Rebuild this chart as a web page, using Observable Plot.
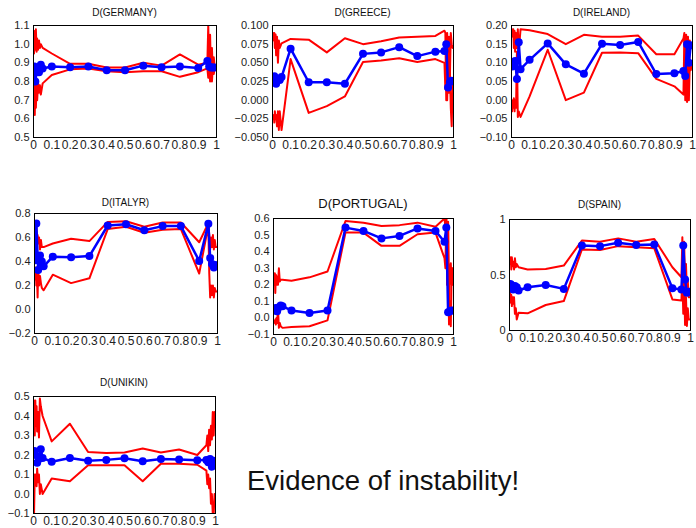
<!DOCTYPE html>
<html>
<head>
<meta charset="utf-8">
<script src="https://cdn.jsdelivr.net/npm/d3@7"></script>
<script src="https://cdn.jsdelivr.net/npm/@observablehq/plot@0.6"></script>
<style>
  body { margin: 0; background: #fff; }
  #root { position: relative; width: 696px; height: 528px; background: #fff; overflow: hidden; }
  .panel { position: absolute; }
  .panel svg { overflow: visible; }
  .ttl { position: absolute; font-family: "Liberation Sans", Arial, sans-serif; font-size: 10px; color: #111; text-align: center; }
  #note { position: absolute; left: 247px; top: 465px; font-family: "Liberation Sans", Arial, sans-serif; font-size: 27.5px; color: #111; white-space: nowrap; }
</style>
</head>
<body>
<div id="root"></div>
<script>
// x grids (quantile levels)
const bx = [0.005,0.01,0.02,0.03,0.04,0.05,0.1,0.2,0.3,0.4,0.5,0.6,0.7,0.8,0.9,0.95,0.96,0.97,0.98,0.99];
const rx = [0.003,0.007,0.01,0.013,0.017,0.02,0.025,0.03,0.035,0.04,0.05,0.1,0.2,0.3,0.4,0.5,0.6,0.7,0.8,0.9,0.95,0.955,0.96,0.965,0.97,0.975,0.98,0.985,0.99,0.995];
const xTicks = [0,0.1,0.2,0.3,0.4,0.5,0.6,0.7,0.8,0.9,1];

const germanyBlue = [0.88,0.80,0.87,0.85,0.89,0.87,0.88,0.876,0.88,0.86,0.86,0.885,0.876,0.88,0.872,0.91,0.88,0.875,0.875,0.875];
const germanyUpper = [0.95,1.07,0.97,1.08,0.96,1.03,0.97,1.02,0.98,1.0,0.98,0.95,0.895,0.895,0.875,0.875,0.9,0.885,0.945,0.89,0.9,1.1,0.85,1.05,0.82,0.98,0.85,0.93,0.88,0.88];
const germanyLower = [0.84,0.62,0.78,0.66,0.8,0.7,0.79,0.74,0.78,0.73,0.79,0.835,0.865,0.87,0.855,0.85,0.855,0.855,0.825,0.85,0.87,0.82,0.9,0.8,0.92,0.8,0.88,0.84,0.87,0.87];

const greeceBlue = [0.027,0.032,0.022,0.028,0.027,0.031,0.069,0.024,0.024,0.022,0.062,0.064,0.071,0.059,0.065,0.066,0.075,0.017,0.024,0.026];
const greeceUpper = [0.09,0.08,0.09,0.07,0.088,0.06,0.085,0.05,0.08,0.07,0.076,0.082,0.081,0.064,0.083,0.075,0.079,0.084,0.085,0.086,0.093,0.09,0.0,0.09,0.02,0.085,0.03,0.09,0.075,0.07];
const greeceLower = [-0.025,-0.02,-0.03,-0.015,-0.025,-0.02,-0.035,-0.015,-0.04,-0.015,-0.04,0.055,-0.017,-0.008,0.005,0.051,0.053,0.056,0.051,0.055,0.05,0.015,0.07,0.0,0.06,0.01,0.04,-0.01,-0.035,0.02];

const irelandBlue = [0.09,0.098,0.105,0.057,0.155,0.083,0.108,0.152,0.096,0.071,0.151,0.148,0.156,0.07,0.072,0.078,0.065,0.15,0.1,0.147];
const irelandUpper = [0.19,0.17,0.19,0.14,0.185,0.13,0.18,0.14,0.19,0.13,0.19,0.187,0.177,0.15,0.175,0.17,0.17,0.173,0.123,0.123,0.165,0.18,0.06,0.175,0.0,0.17,0.05,0.16,0.14,0.15];
const irelandLower = [-0.03,0.0,-0.02,0.005,-0.03,0.0,-0.02,0.13,-0.045,-0.03,-0.045,0.01,0.135,0.0,0.02,0.127,0.128,0.126,0.057,0.037,0.015,0.17,0.0,0.16,-0.005,0.13,0.0,0.1,0.08,0.09];

const italyBlue = [0.41,0.716,0.33,0.45,0.40,0.36,0.44,0.435,0.445,0.70,0.71,0.66,0.695,0.695,0.405,0.715,0.43,0.38,0.35,0.37];
const italyUpper = [0.73,0.5,0.7,0.55,0.62,0.55,0.6,0.5,0.58,0.52,0.52,0.55,0.59,0.57,0.73,0.735,0.69,0.725,0.725,0.56,0.72,0.62,0.5,0.6,0.52,0.62,0.5,0.58,0.52,0.52];
const italyLower = [0.25,0.35,0.2,0.3,0.1,0.35,0.2,0.28,0.22,0.18,0.16,0.29,0.22,0.26,0.67,0.69,0.64,0.665,0.67,0.3,0.7,0.3,0.1,0.2,0.12,0.2,0.1,0.18,0.15,0.15];

const portugalBlue = [0.045,0.06,0.04,0.065,0.075,0.07,0.045,0.03,0.045,0.545,0.525,0.48,0.495,0.54,0.525,0.46,0.545,0.035,0.04,0.045];
const portugalUpper = [0.2,0.27,0.15,0.26,0.2,0.25,0.2,0.3,0.22,0.23,0.23,0.225,0.245,0.28,0.585,0.575,0.555,0.56,0.575,0.55,0.6,0.55,0.6,0.2,0.58,0.0,0.3,0.33,0.2,0.3];
const portugalLower = [-0.02,-0.03,-0.01,-0.04,0.0,-0.03,0.05,-0.06,-0.03,-0.05,-0.06,-0.055,-0.05,-0.015,0.515,0.515,0.435,0.435,0.505,0.515,0.36,0.3,0.6,0.2,0.55,-0.04,0.1,-0.05,0.3,0.2];

const spainBlue = [0.42,0.41,0.37,0.4,0.39,0.36,0.39,0.41,0.375,0.765,0.76,0.79,0.77,0.775,0.38,0.37,0.765,0.46,0.34,0.35];
const spainUpper = [0.6,0.66,0.55,0.66,0.58,0.62,0.55,0.65,0.57,0.6,0.57,0.55,0.555,0.585,0.81,0.8,0.83,0.8,0.825,0.57,0.48,0.84,0.45,0.8,0.4,0.6,0.35,0.45,0.3,0.3];
const spainLower = [0.35,0.25,0.32,0.22,0.3,0.24,0.3,0.15,0.2,0.1,0.16,0.155,0.23,0.265,0.73,0.725,0.76,0.75,0.74,0.28,0.27,0.5,0.15,0.45,0.05,0.3,0.04,0.2,0.1,0.1];

const unikinBlue = [0.22,0.2,0.16,0.18,0.23,0.185,0.165,0.185,0.17,0.175,0.183,0.168,0.18,0.177,0.173,0.175,0.163,0.18,0.14,0.17];
const unikinUpper = [0.48,0.3,0.48,0.35,0.45,0.32,0.42,0.29,0.49,0.45,0.4,0.27,0.36,0.215,0.21,0.213,0.233,0.213,0.228,0.2,0.25,0.3,0.22,0.33,0.25,0.35,0.28,0.42,0.3,0.42];
const unikinLower = [-0.1,0.1,0.05,0.1,0.04,0.13,0.06,0.1,0.0,0.05,0.0,0.08,0.065,0.148,0.148,0.148,0.065,0.155,0.155,0.15,0.12,0.05,0.1,0.03,0.08,-0.05,0.0,-0.1,-0.1,0.0];

const titles = ["D(GERMANY)","D(GREECE)","D(IRELAND)","D(ITALYR)","D(PORTUGAL)","D(SPAIN)","D(UNIKIN)"];
const yDomains = [[0.5,1.1],[-0.05,0.1],[-0.1,0.2],[-0.2,0.8],[-0.1,0.6],[0,1],[-0.1,0.5]];
const yTicks = [
  [0.5,0.6,0.7,0.8,0.9,1.0,1.1],
  [-0.05,-0.025,0,0.025,0.05,0.075,0.1],
  [-0.1,-0.05,0,0.05,0.1,0.15,0.2],
  [-0.2,0,0.2,0.4,0.6,0.8],
  [-0.1,0,0.1,0.2,0.3,0.4,0.5,0.6],
  [0,0.5,1],
  [-0.1,0,0.1,0.2,0.3,0.4,0.5]
];
const yFormats = [".1f",".3f",".2f",".1f",".1f","~g",".1f"];
const blues = [germanyBlue,greeceBlue,irelandBlue,italyBlue,portugalBlue,spainBlue,unikinBlue];
const uppers = [germanyUpper,greeceUpper,irelandUpper,italyUpper,portugalUpper,spainUpper,unikinUpper];
const lowers = [germanyLower,greeceLower,irelandLower,italyLower,portugalLower,spainLower,unikinLower];

// layout: frame boxes [left, top, right, bottom] and title positions
const frames = [[33,25,216,137],[272,25,453,137],[511,25,692,137],[34,213,217,333],[273,218,453,334],[509,219,690,330],[33,396,215,513]];
const titleY = [7,7,7,197,196,199,377];
const titleSize = [10,10,10,10,13,10,10];

const root = document.getElementById("root");
const ml = 40, mr = 3, mt = 9, mb = 20;

titles.forEach((t, i) => {
  const [L, T, R, B] = frames[i];
  const blueData = bx.map((x, j) => ({x, y: blues[i][j]}));
  const upData = rx.map((x, j) => ({x, y: uppers[i][j]}));
  const loData = rx.map((x, j) => ({x, y: lowers[i][j]}));
  const chart = Plot.plot({
    width: R - L + ml + mr,
    height: B - T + mt + mb,
    marginLeft: ml, marginRight: mr, marginTop: mt, marginBottom: mb,
    style: {fontFamily: "Liberation Sans, Arial, sans-serif", fontSize: "11px", color: "#222", background: "transparent", overflow: "visible"},
    x: {domain: [0, 1], ticks: xTicks, tickFormat: d3.format("~g"), tickSize: 0, tickPadding: 3, label: null},
    y: {domain: yDomains[i], ticks: yTicks[i], tickFormat: d3.format(yFormats[i]), tickSize: 0, tickPadding: 4, label: null},
    marks: [
      Plot.lineY(upData, {x: "x", y: "y", stroke: "#ff0000", strokeWidth: 2, clip: true}),
      Plot.lineY(loData, {x: "x", y: "y", stroke: "#ff0000", strokeWidth: 2, clip: true}),
      Plot.lineY(blueData, {x: "x", y: "y", stroke: "#0000ff", strokeWidth: 2.5, clip: true}),
      Plot.dot(blueData, {x: "x", y: "y", fill: "#0000ff", r: 4, clip: true}),
      Plot.frame({stroke: "#000", strokeWidth: 1})
    ]
  });
  // slightly larger x tick labels, as in the reference
  chart.querySelectorAll('g[aria-label="x-axis tick label"] text').forEach(el => el.setAttribute("font-size", "12"));
  const wrap = document.createElement("div");
  wrap.className = "panel";
  wrap.style.left = (L - ml) + "px";
  wrap.style.top = (T - mt) + "px";
  wrap.appendChild(chart);
  root.appendChild(wrap);

  const tt = document.createElement("div");
  tt.className = "ttl";
  tt.textContent = t;
  tt.style.left = L + "px";
  tt.style.width = (R - L) + "px";
  tt.style.top = titleY[i] + "px";
  tt.style.fontSize = titleSize[i] + "px";
  root.appendChild(tt);
});

const note = document.createElement("div");
note.id = "note";
note.textContent = "Evidence of instability!";
root.appendChild(note);
</script>
</body>
</html>
